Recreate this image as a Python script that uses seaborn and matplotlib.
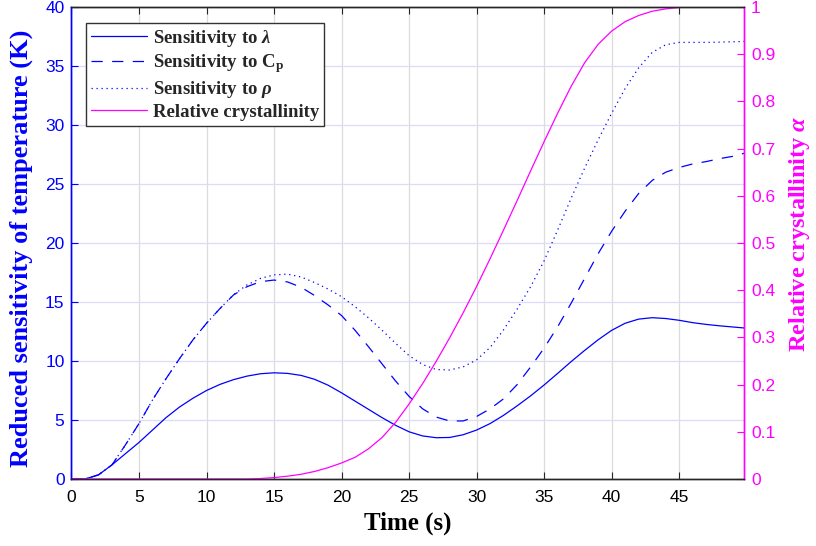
import numpy as np
import pandas as pd
import matplotlib
matplotlib.use("Agg")
import matplotlib.pyplot as plt
import seaborn as sns
from matplotlib.lines import Line2D

# ---- data ----
time_s = [0, 1, 2, 3, 4, 5, 6, 7, 8, 9, 10, 11, 12, 13, 14, 15, 16, 17, 18, 19,
          20, 21, 22, 23, 24, 25, 26, 27, 28, 29, 30, 31, 32, 33, 34, 35, 36, 37, 38, 39,
          40, 41, 42, 43, 44, 45, 46, 47, 48, 49, 49.8]

sens_lambda = [0, 0, 0.35, 1.2, 2.15, 3.1, 4.15, 5.2, 6.1, 6.85, 7.5, 8.02, 8.42, 8.72, 8.92, 9.0,
               8.95, 8.78, 8.45, 7.95, 7.3, 6.6, 5.9, 5.2, 4.55, 4.0, 3.65, 3.5, 3.52, 3.75,
               4.15, 4.7, 5.4, 6.2, 7.05, 7.97, 8.95, 9.95, 10.9, 11.8, 12.6, 13.2, 13.55,
               13.67, 13.6, 13.45, 13.25, 13.1, 12.98, 12.88, 12.8]

sens_cp = [0, 0, 0.35, 1.2, 2.9, 4.7, 6.7, 8.5, 10.2, 11.8, 13.2, 14.45, 15.6, 16.3, 16.72, 16.86,
           16.7, 16.25, 15.55, 14.75, 13.85, 12.6, 11.2, 9.75, 8.3, 7.0, 5.95, 5.25, 4.92, 4.92,
           5.3, 5.95, 6.8, 8.0, 9.5, 11.1, 12.9, 14.9, 17.0, 19.1, 21.0, 22.7, 24.2, 25.3,
           26.0, 26.4, 26.7, 26.9, 27.15, 27.35, 27.6]

sens_rho = [0, 0, 0.35, 1.2, 2.9, 4.7, 6.7, 8.5, 10.2, 11.8, 13.2, 14.45, 15.62, 16.45, 17.0, 17.3,
            17.36, 17.12, 16.65, 16.1, 15.45, 14.6, 13.65, 12.6, 11.5, 10.45, 9.7, 9.28, 9.24,
            9.5, 10.1, 11.15, 12.65, 14.4, 16.3, 18.5, 21.1, 23.8, 26.35, 28.75, 31.0, 33.1,
            34.85, 36.15, 36.8, 37.0, 37.0, 37.0, 37.02, 37.05, 37.08]

crystallinity = [0, 0, 0, 0, 0, 0, 0, 0, 0, 0, 0, 0, 0, 0, 0.001, 0.003, 0.006, 0.010, 0.016,
                 0.024, 0.034, 0.046, 0.064, 0.088, 0.120, 0.159, 0.202, 0.249, 0.299, 0.352,
                 0.408, 0.467, 0.528, 0.590, 0.653, 0.715, 0.775, 0.832, 0.882, 0.921, 0.949,
                 0.969, 0.982, 0.991, 0.996, 0.999, 1.0, 1.0, 1.0, 1.0, 1.0]

x_ticks = [0, 5, 10, 15, 20, 25, 30, 35, 40, 45]
y_left_ticks = [0, 5, 10, 15, 20, 25, 30, 35, 40]
y_right_ticks = [0, 0.1, 0.2, 0.3, 0.4, 0.5, 0.6, 0.7, 0.8, 0.9, 1]
y_right_labels = ["0", "0.1", "0.2", "0.3", "0.4", "0.5", "0.6", "0.7", "0.8", "0.9", "1"]

labels = [r"Sensitivity to $\lambda$", r"Sensitivity to $\mathrm{C_p}$",
          r"Sensitivity to $\rho$", "Relative crystallinity"]

df = pd.DataFrame({"t": time_s, "lam": sens_lambda, "cp": sens_cp,
                   "rho": sens_rho, "alpha": crystallinity})

# ---- style ----
sns.set_theme(style="white")
plt.rcParams["font.family"] = ["Liberation Sans", "DejaVu Sans"]
plt.rcParams["mathtext.fontset"] = "custom"
plt.rcParams["mathtext.rm"] = "Liberation Serif:bold"
plt.rcParams["mathtext.it"] = "Liberation Serif:italic:bold"
plt.rcParams["mathtext.bf"] = "Liberation Serif:bold"

BLUE = "#0000ff"
MAG = "#ff00ff"
DARK = "#262626"

fig = plt.figure(figsize=(8.16, 5.46), dpi=100)
ax = fig.add_axes([0.0876, 0.1227, 0.9118 - 0.0876, 0.9872 - 0.1227])
ax2 = ax.twinx()

lw = 0.9
DASH = (0, (9.0, 7.5))
DOT = (0, (1.0, 3.0))
sns.lineplot(data=df, x="t", y="lam", ax=ax, color=BLUE, lw=lw, estimator=None, sort=False)
sns.lineplot(data=df, x="t", y="cp", ax=ax, color=BLUE, lw=lw, estimator=None, sort=False,
             linestyle=DASH)
sns.lineplot(data=df, x="t", y="rho", ax=ax, color=BLUE, lw=lw, estimator=None, sort=False,
             linestyle=DOT)
sns.lineplot(data=df, x="t", y="alpha", ax=ax2, color=MAG, lw=lw, estimator=None, sort=False)

ax.set_xlim(0, 49.8)
ax.set_ylim(0, 40)
ax2.set_ylim(0, 1)
ax.set_xticks(x_ticks)
ax.set_yticks(y_left_ticks)
ax2.set_yticks(y_right_ticks)
ax2.set_yticklabels(y_right_labels)

# grid
ax.grid(False)
ax2.grid(False)
ax.xaxis.grid(True, color="#dcdcdc", lw=0.9)
ax.yaxis.grid(True, color="#dcdcf8", lw=0.9)
ax.set_axisbelow(True)

# spines
for a in (ax, ax2):
    a.spines["top"].set_color(DARK)
    a.spines["bottom"].set_color(DARK)
    a.spines["left"].set_color(BLUE)
    a.spines["right"].set_color(MAG)
    for s in a.spines.values():
        s.set_linewidth(1.0)

ax.tick_params(axis="x", direction="in", length=5, width=0.8, colors=DARK,
               top=True, bottom=True, labelsize=12.5, pad=8)
ax.tick_params(axis="y", direction="in", length=5, width=0.8, colors=BLUE,
               left=True, right=False, labelsize=12.5, pad=5)
ax2.tick_params(axis="y", direction="in", length=5, width=0.8, colors=MAG,
                right=True, left=False, labelsize=12.5, pad=5)
for lab in ax.get_xticklabels():
    lab.set_color("black")

serif = dict(family=["Liberation Serif", "DejaVu Serif"], weight="bold")
ax.set_xlabel("Time (s)", color="black", labelpad=5, size=18, **serif)
ax.set_ylabel("Reduced sensitivity of temperature (K)", color=BLUE, size=19, **serif)
ax2.set_ylabel(r"Relative crystallinity $\alpha$", color=MAG, size=17.5, **serif)
ax.yaxis.set_label_coords(-0.057, 0.488)
ax2.yaxis.set_label_coords(1.064, 0.52)

handles = [
    Line2D([], [], color=BLUE, lw=lw),
    Line2D([], [], color=BLUE, lw=lw, linestyle=DASH),
    Line2D([], [], color=BLUE, lw=lw, linestyle=DOT),
    Line2D([], [], color=MAG, lw=lw),
]
leg = ax2.legend(handles, labels, loc="upper left", bbox_to_anchor=(0.0216, 0.966),
                 borderaxespad=0, frameon=True, fancybox=False, framealpha=1,
                 edgecolor="#333333", handlelength=3.0, handletextpad=0.3,
                 labelspacing=0.2, borderpad=0.25,
                 prop=dict(family=["Liberation Serif", "DejaVu Serif"], weight="bold", size=13.5))
leg.get_frame().set_linewidth(1.0)

fig.savefig("out.png", dpi=100)
